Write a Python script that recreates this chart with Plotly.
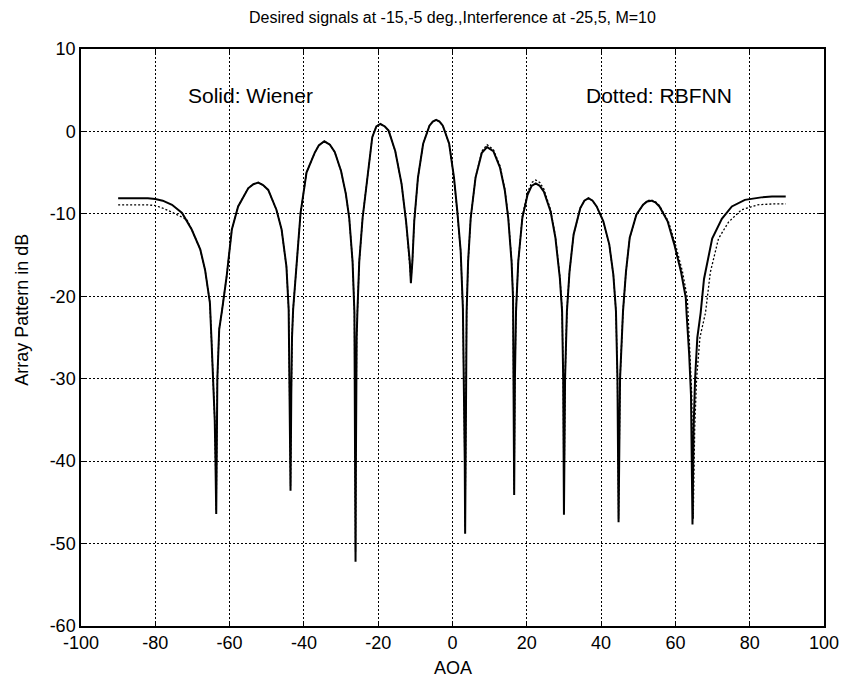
import plotly.graph_objects as go

# Solid: Wiener
wiener_x = [-90, -86, -82, -80, -78, -75.5, -72.8, -70.2, -67.9, -66.6, -65.3, -64.9, -64.4, -64.0, -63.8, -63.6,
            -63.3, -62.8, -62.0, -60.8, -59.4, -57.7, -55.0, -53.6, -52.3, -51.0, -49.6, -47.4, -46.0, -44.7, -44.1,
            -43.9, -43.7, -43.6, -43.4, -43.2, -42.9, -41.7, -40.9, -39.3, -37.1, -36.0, -34.5, -33.0, -31.7, -30.0, -28.7,
            -27.8, -26.9, -26.4, -26.3, -26.2, -26.1, -26.0, -25.9, -25.8, -25.6, -25.1, -24.2, -22.9, -21.6,
            -20.5, -19.4, -18.2, -17.2, -15.4, -13.7, -12.5, -11.5, -11.2, -10.8, -10.3, -9.3, -7.9, -6.2,
            -5.3, -4.4, -3.5, -2.6, -0.9, 0.4, 1.3, 2.2, 2.8, 3.1, 3.3, 3.4, 3.5, 3.6, 3.8, 4.2, 4.9, 6.2,
            7.9, 9.3, 11.0, 12.8, 14.1, 15.0, 15.9, 16.3, 16.5, 16.6, 16.8, 17.1, 17.7, 18.8, 20.2, 21.3,
            22.4, 23.5, 24.6, 26.4, 27.7, 28.9, 29.5, 29.8, 30.0, 30.3, 30.8, 31.5, 32.6, 34.4, 35.5, 36.6,
            37.7, 38.8, 40.6, 42.2, 43.3, 44.0, 44.4, 44.7, 45.1, 45.9, 46.7, 47.7, 49.5, 51.3, 52.4, 53.5, 54.6, 55.7,
            57.9, 59.7, 61.5, 62.8, 63.0, 63.7, 64.2, 64.4, 64.6, 64.9, 65.3, 65.9, 66.8, 67.7, 69.9, 72.5,
            75.2, 78.7, 83.1, 86.0, 89.7]
wiener_y = [-8.1, -8.1, -8.1, -8.2, -8.4, -8.9, -9.9, -11.9, -14.3, -16.8, -20.8, -25.0, -30.0, -35.0, -40.0, -46.4,
            -30.0, -24.0, -21.6, -17.6, -11.9, -9.1, -6.9, -6.4, -6.2, -6.5, -7.1, -9.5, -11.9, -16.4, -21.6,
            -28.0, -35.0, -43.6, -32.0, -25.0, -21.6, -14.3, -9.9, -5.0, -2.6, -1.7, -1.2, -1.6, -2.5, -4.8, -7.6,
            -10.5, -15.8, -22.0, -30.0, -40.0, -52.2, -40.0, -30.0, -25.0, -21.9, -15.8, -10.5, -5.6, -0.7,
            0.6, 0.9, 0.6, 0.1, -2.4, -6.4, -10.9, -15.8, -18.4, -15.8, -10.9, -5.6, -1.5, 0.7,
            1.2, 1.4, 1.2, 0.7, -1.5, -5.6, -9.7, -14.5, -21.5, -30.0, -40.0, -48.8, -40.0, -30.0, -21.9, -15.8, -10.5, -5.6,
            -2.6, -1.9, -2.4, -4.4, -7.2, -10.5, -15.8, -20.2, -30.0, -44.1, -30.0, -21.8, -15.8, -10.5, -7.7, -6.6,
            -6.3, -6.6, -7.3, -9.7, -12.9, -17.8, -21.8, -30.0, -46.5, -30.0, -21.8, -17.0, -12.5, -9.3, -8.4, -8.1,
            -8.4, -9.1, -10.9, -13.7, -17.4, -21.8, -30.0, -47.4, -30.0, -21.8, -17.0, -12.9, -10.1, -8.9, -8.5, -8.4, -8.6, -9.1,
            -10.9, -13.7, -17.0, -20.2, -22.0, -27.0, -32.0, -40.0, -47.7, -36.0, -30.0, -25.0, -22.0, -17.9, -13.0, -10.6,
            -9.1, -8.3, -8.0, -7.9, -7.9]

# Dotted: RBFNN
rbfnn_x = [-90, -86, -82, -80, -78, -75.5, -72.8, -71.5, -70.2, -67.9, -66.6, -65.3, -64.9, -64.4, -64.0, -63.8, -63.6,
           -63.3, -62.8, -62.0, -60.8, -59.4, -57.7, -55.0, -53.6, -52.3, -51.0, -49.6, -47.4, -46.0, -44.7, -44.1,
           -43.9, -43.7, -43.6, -43.4, -43.2, -42.9, -41.7, -40.9, -39.3, -37.1, -36.0, -34.5, -33.0, -31.7, -30.0, -28.7,
           -27.8, -26.9, -26.4, -26.3, -26.2, -26.1, -26.0, -25.9, -25.8, -25.6, -25.1, -24.2, -22.9, -21.6,
           -20.5, -19.4, -18.2, -17.2, -15.4, -13.7, -12.5, -11.5, -11.2, -10.8, -10.3, -9.3, -7.9, -6.2,
           -5.3, -4.4, -3.5, -2.6, -0.9, 0.4, 1.3, 2.2, 2.8, 3.1, 3.3, 3.4, 3.5, 3.6, 3.8, 4.2, 4.9, 6.2,
           7.9, 9.3, 11.0, 12.8, 14.1, 15.0, 15.9, 16.3, 16.5, 16.6, 16.8, 17.1, 17.7, 18.8, 20.2, 21.3,
           22.4, 23.5, 24.6, 26.4, 27.7, 28.9, 29.5, 29.8, 30.0, 30.3, 30.8, 31.5, 32.6, 34.4, 35.5, 36.6,
           37.7, 38.8, 40.6, 42.2, 43.3, 44.0, 44.4, 44.7, 45.1, 45.9, 46.7, 47.7, 49.5, 51.3, 52.4, 53.5, 54.6, 55.7,
           58.1, 60.0, 61.9, 63.2, 63.4, 64.0, 64.4, 64.6, 64.8, 65.2, 65.7, 66.6, 68.1, 69.4, 71.6, 74.3,
           77.8, 82.2, 86.0, 89.7]
rbfnn_y = [-8.9, -8.9, -8.9, -9.0, -9.3, -9.8, -10.4, -10.7, -11.9, -14.3, -16.8, -20.8, -25.0, -30.0, -35.0, -40.0, -46.0,
           -30.0, -24.0, -21.6, -17.6, -11.9, -9.1, -6.9, -6.4, -6.2, -6.5, -7.1, -9.5, -11.9, -16.4, -21.6,
           -28.0, -35.0, -43.0, -32.0, -25.0, -21.6, -14.3, -9.9, -5.0, -2.6, -1.7, -1.2, -1.6, -2.5, -4.8, -7.6,
           -10.5, -15.8, -22.0, -30.0, -40.0, -51.0, -40.0, -30.0, -25.0, -21.9, -15.8, -10.5, -5.6, -0.7,
           0.6, 0.9, 0.6, 0.1, -2.4, -6.4, -10.9, -15.8, -18.0, -15.8, -10.9, -5.6, -1.5, 0.7,
           1.2, 1.4, 1.2, 0.7, -1.5, -5.6, -9.7, -14.5, -21.5, -30.0, -40.0, -48.0, -40.0, -30.0, -21.9, -15.8, -10.5, -5.6,
           -2.4, -1.6, -2.2, -4.2, -7.0, -10.3, -15.6, -20.0, -30.0, -43.5, -30.0, -21.8, -15.8, -10.3, -7.4, -6.2,
           -5.9, -6.2, -7.0, -9.5, -12.7, -17.6, -21.6, -30.0, -46.0, -30.0, -21.8, -17.0, -12.5, -9.3, -8.4, -8.1,
           -8.4, -9.1, -10.9, -13.7, -17.4, -21.8, -30.0, -47.0, -30.0, -21.8, -17.0, -12.9, -10.1, -8.9, -8.4, -8.3, -8.5, -9.0,
           -10.9, -13.7, -17.0, -20.2, -22.0, -27.0, -32.0, -40.0, -47.0, -36.0, -30.0, -25.0, -22.0, -17.1, -13.0, -11.0,
           -9.5, -8.9, -8.8, -8.8]

x_ticks = [-100, -80, -60, -40, -20, 0, 20, 40, 60, 80, 100]
y_ticks = [-60, -50, -40, -30, -20, -10, 0, 10]

title_text = "Desired signals at -15,-5 deg.,Interference at -25,5, M=10"
x_label = "AOA"
y_label = "Array Pattern in dB"
label_solid = "Solid: Wiener"
label_dotted = "Dotted: RBFNN"

FONT = "Liberation Sans, Arial, sans-serif"

fig = go.Figure()
fig.add_trace(go.Scatter(x=wiener_x, y=wiener_y, mode="lines",
                         line=dict(color="black", width=2), showlegend=False))
fig.add_trace(go.Scatter(x=rbfnn_x, y=rbfnn_y, mode="lines",
                         line=dict(color="black", width=1.3, dash="2px,2px"), showlegend=False))

axis_common = dict(showline=True, linecolor="black", linewidth=1.5, mirror="ticks",
                   ticks="inside", ticklen=5, tickcolor="black",
                   showgrid=True, gridcolor="black", gridwidth=1, griddash="2px,2px",
                   zeroline=False, tickfont=dict(family=FONT, size=18, color="black"))

fig.update_xaxes(range=[-100, 100], tickvals=x_ticks, ticktext=[str(v) for v in x_ticks], **axis_common)
fig.update_yaxes(range=[-60, 10], tickvals=y_ticks, ticktext=[str(v) for v in y_ticks], **axis_common)

fig.add_annotation(x=-54.4, y=4.3, text=label_solid, showarrow=False,
                   font=dict(family=FONT, size=21, color="black"))
fig.add_annotation(x=55.5, y=4.3, text=label_dotted, showarrow=False,
                   font=dict(family=FONT, size=21, color="black"))
fig.add_annotation(xref="paper", yref="paper", x=0.5, y=1.0, yshift=32, text=title_text,
                   showarrow=False, xanchor="center", yanchor="middle",
                   font=dict(family=FONT, size=16, color="black"))
fig.add_annotation(xref="paper", yref="paper", x=0.5, y=0, yshift=-42, text=x_label,
                   showarrow=False, xanchor="center", yanchor="middle",
                   font=dict(family=FONT, size=18, color="black"))
fig.add_annotation(xref="paper", yref="paper", x=0, xshift=-59, y=0.548, text=y_label,
                   showarrow=False, textangle=-90, xanchor="center", yanchor="middle",
                   font=dict(family=FONT, size=18, color="black"))

fig.update_layout(width=851, height=685, margin=dict(l=81, r=23, t=49, b=59),
                  plot_bgcolor="white", paper_bgcolor="white")

fig.write_html("out.html")
